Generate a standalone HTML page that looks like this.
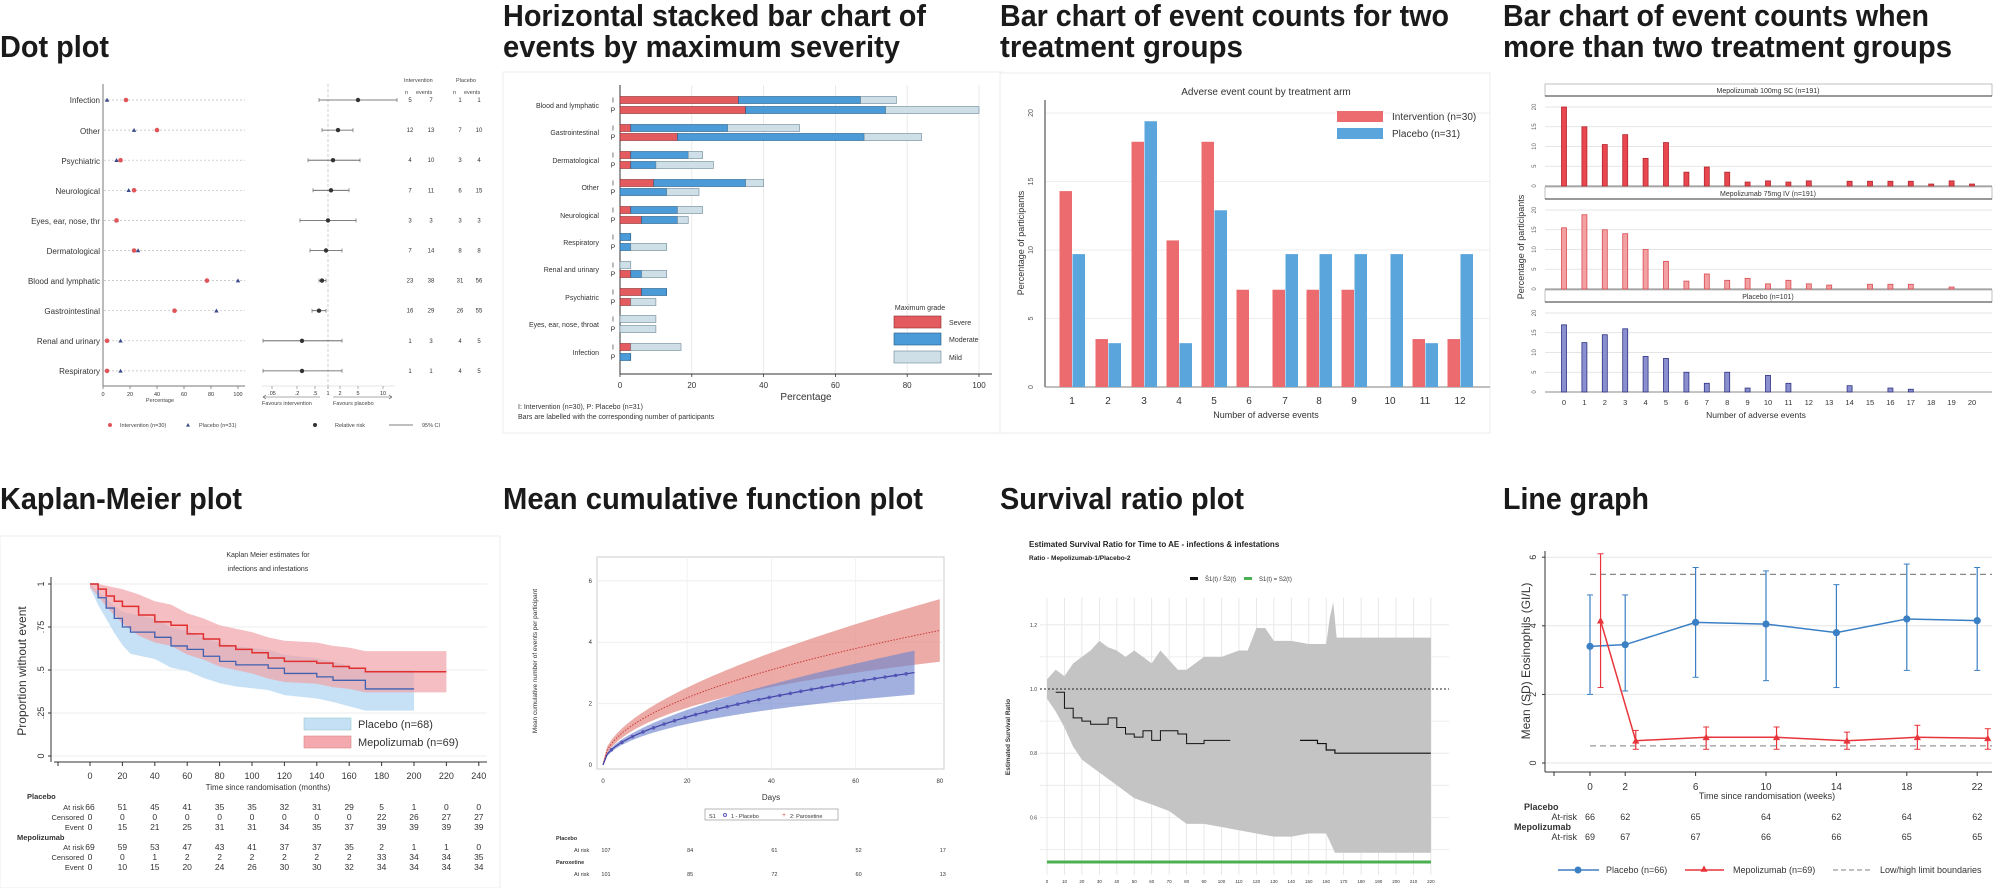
<!DOCTYPE html>
<html><head><meta charset="utf-8"><style>
html,body{margin:0;padding:0;background:#fff;}
svg{display:block;font-family:"Liberation Sans",sans-serif;}
.tt{font-weight:bold;font-size:31px;fill:#1a1a1a;}
</style></head><body>
<svg id="s" width="2000" height="888" viewBox="0 0 2000 888" xmlns="http://www.w3.org/2000/svg">
<rect width="2000" height="888" fill="#fff"/>
<!-- titles -->
<text class="tt" x="0" y="57" textLength="109" lengthAdjust="spacingAndGlyphs">Dot plot</text>
<text class="tt" x="503" y="26" textLength="423" lengthAdjust="spacingAndGlyphs">Horizontal stacked bar chart of</text>
<text class="tt" x="503" y="57" textLength="397" lengthAdjust="spacingAndGlyphs">events by maximum severity</text>
<text class="tt" x="1000" y="26" textLength="449" lengthAdjust="spacingAndGlyphs">Bar chart of event counts for two</text>
<text class="tt" x="1000" y="57" textLength="243" lengthAdjust="spacingAndGlyphs">treatment groups</text>
<text class="tt" x="1503" y="26" textLength="426" lengthAdjust="spacingAndGlyphs">Bar chart of event counts when</text>
<text class="tt" x="1503" y="57" textLength="449" lengthAdjust="spacingAndGlyphs">more than two treatment groups</text>
<text class="tt" x="0" y="509" textLength="242" lengthAdjust="spacingAndGlyphs">Kaplan-Meier plot</text>
<text class="tt" x="503" y="509" textLength="420" lengthAdjust="spacingAndGlyphs">Mean cumulative function plot</text>
<text class="tt" x="1000" y="509" textLength="244" lengthAdjust="spacingAndGlyphs">Survival ratio plot</text>
<text class="tt" x="1503" y="509" textLength="146" lengthAdjust="spacingAndGlyphs">Line graph</text>

<!-- cards -->
<rect x="503" y="72" width="500" height="361" fill="#fff" stroke="#eee"/>
<rect x="1000" y="73" width="490" height="360" fill="#fff" stroke="#eee"/>
<rect x="0" y="536" width="500" height="352" fill="#fff" stroke="#eee"/>

<g id="g"></g>

<!-- dot plot static text -->
<g font-size="8" fill="#333" text-anchor="end">
<text x="100" y="103">Infection</text><text x="100" y="134">Other</text><text x="100" y="164">Psychiatric</text><text x="100" y="194">Neurological</text><text x="100" y="224">Eyes, ear, nose, thr</text><text x="100" y="254">Dermatological</text><text x="100" y="284">Blood and lymphatic</text><text x="100" y="314">Gastrointestinal</text><text x="100" y="344">Renal and urinary</text><text x="100" y="374">Respiratory</text>
</g>
<g font-size="5.5" fill="#444">
<text x="404" y="82">Intervention</text><text x="456" y="82">Placebo</text>
<text x="405" y="94">n</text><text x="416" y="94">events</text><text x="453" y="94">n</text><text x="464" y="94">events</text>
<text x="160" y="402" text-anchor="middle">Percentage</text>
<text x="262" y="405">Favours intervention</text><text x="333" y="405">Favours placebo</text>
<text x="120" y="427">Intervention (n=30)</text><text x="199" y="427">Placebo (n=31)</text><text x="335" y="427">Relative risk</text><text x="422" y="427">95% CI</text>
</g>
<!-- stacked bar static text -->
<g font-size="7" fill="#333" text-anchor="end">
<text x="599" y="108">Blood and lymphatic</text><text x="599" y="135">Gastrointestinal</text><text x="599" y="163">Dermatological</text><text x="599" y="190">Other</text><text x="599" y="218">Neurological</text><text x="599" y="245">Respiratory</text><text x="599" y="272">Renal and urinary</text><text x="599" y="300">Psychiatric</text><text x="599" y="327">Eyes, ear, nose, throat</text><text x="599" y="355">Infection</text>
</g>
<g font-size="10" fill="#333"><text x="806" y="400" text-anchor="middle">Percentage</text></g>
<g font-size="7" fill="#333"><text x="920" y="310" text-anchor="middle">Maximum grade</text><text x="949" y="325">Severe</text><text x="949" y="342">Moderate</text><text x="949" y="360">Mild</text>
<text x="518" y="409">I: Intervention (n=30), P: Placebo (n=31)</text><text x="518" y="419">Bars are labelled with the corresponding number of participants</text></g>
<!-- panel 3 static text -->
<g font-size="10" fill="#333">
<text x="1266" y="95" text-anchor="middle">Adverse event count by treatment arm</text>
<text x="1266" y="418" text-anchor="middle" font-size="9">Number of adverse events</text>
<text x="1392" y="120">Intervention (n=30)</text><text x="1392" y="137">Placebo (n=31)</text>
<text transform="translate(1024,243) rotate(-90)" text-anchor="middle" font-size="9">Percentage of participants</text>
</g>
<!-- panel 4 static text -->
<g font-size="7" fill="#333" text-anchor="middle">
<text x="1768" y="93">Mepolizumab 100mg SC (n=191)</text>
<text x="1768" y="196">Mepolizumab 75mg IV (n=191)</text>
<text x="1768" y="299">Placebo (n=101)</text>
<text x="1756" y="418" font-size="8.5">Number of adverse events</text>
<text transform="translate(1524,247) rotate(-90)" font-size="9">Percentage of participants</text>
</g>
<!-- KM static -->
<g font-size="7" fill="#333" text-anchor="middle">
<text x="268" y="557">Kaplan Meier estimates for</text><text x="268" y="571">infections and infestations</text>
<text x="268" y="790" font-size="8">Time since randomisation (months)</text>
</g>
<text transform="translate(26,671) rotate(-90)" text-anchor="middle" font-size="12" fill="#333">Proportion without event</text>
<g font-size="11" fill="#333"><text x="358" y="728">Placebo (n=68)</text><text x="358" y="746">Mepolizumab (n=69)</text></g>
<g font-size="7.5" fill="#333">
<text x="27" y="799" font-weight="bold">Placebo</text><text x="17" y="840" font-weight="bold">Mepolizumab</text>
<g text-anchor="end"><text x="84" y="810">At risk</text><text x="84" y="820">Censored</text><text x="84" y="830">Event</text><text x="84" y="850">At risk</text><text x="84" y="860">Censored</text><text x="84" y="870">Event</text></g>
</g>
<!-- MCF static -->
<text transform="translate(537,661) rotate(-90)" text-anchor="middle" font-size="6.5" fill="#333">Mean cumulative number of events per participant</text>
<g font-size="7" fill="#333">
<text x="771" y="800" text-anchor="middle" font-size="8">Days</text>
<text x="709" y="818" font-size="5.5">S1</text><text x="731" y="818" font-size="5.5">1 - Placebo</text><text x="790" y="818" font-size="5.5">2: Paroxetine</text>
<text x="556" y="840" font-size="5.5" font-weight="bold">Placebo</text><text x="574" y="852" font-size="5.5">At risk</text>
<text x="556" y="864" font-size="5.5" font-weight="bold">Paroxetine</text><text x="574" y="876" font-size="5.5">At risk</text>
</g>
<!-- survival ratio static -->
<g font-size="8" fill="#222" font-weight="bold">
<text x="1029" y="547">Estimated Survival Ratio for Time to AE - infections &amp; infestations</text>
<text x="1029" y="560" font-size="6.5">Ratio - Mepolizumab-1/Placebo-2</text>
</g>
<g font-size="6" fill="#333"><text x="1205" y="581">Ŝ1(t) / Ŝ2(t)</text><text x="1259" y="581">S1(t) = S2(t)</text></g>
<text transform="translate(1010,737) rotate(-90)" text-anchor="middle" font-size="6.5" font-weight="bold" fill="#333">Estimated Survival Ratio</text>
<!-- line graph static -->
<text transform="translate(1530,661) rotate(-90)" text-anchor="middle" font-size="12" fill="#333">Mean (SD) Eosinophils (GI/L)</text>
<g font-size="9" fill="#333">
<text x="1767" y="799" text-anchor="middle">Time since randomisation (weeks)</text>
<text x="1524" y="810" font-weight="bold">Placebo</text><text x="1514" y="830" font-weight="bold">Mepolizumab</text>
<text x="1577" y="820" text-anchor="end">At-risk</text><text x="1577" y="840" text-anchor="end">At-risk</text>
<text x="1606" y="873">Placebo (n=66)</text><text x="1733" y="873">Mepolizumab (n=69)</text><text x="1880" y="873">Low/high limit boundaries</text>
</g>
</svg>
<script>
var G=document.getElementById('g'),NS='http://www.w3.org/2000/svg';
function E(t,a,tx){var e=document.createElementNS(NS,t);for(var k in a)e.setAttribute(k,a[k]);if(tx!==undefined)e.textContent=tx;G.appendChild(e);return e;}
function L(x1,y1,x2,y2,s,w,d){var a={x1:x1,y1:y1,x2:x2,y2:y2,stroke:s||'#333','stroke-width':w||1};if(d)a['stroke-dasharray']=d;return E('line',a);}
function T(x,y,t,fs,an,f,ex){var a={x:x,y:y,'font-size':fs||7,fill:f||'#333'};if(an)a['text-anchor']=an;if(ex)for(var k in ex)a[k]=ex[k];return E('text',a,t);}
function R(x,y,w,h,f,s,sw){var a={x:x,y:y,width:Math.max(0,w),height:h,fill:f};if(s){a.stroke=s;a['stroke-width']=sw||0.6;}return E('rect',a);}
function P(d,f,s,w,ex){var a={d:d,fill:f||'none'};if(s){a.stroke=s;a['stroke-width']=w||1;}if(ex)for(var k in ex)a[k]=ex[k];return E('path',a);}
function C(x,y,r,f,s){var a={cx:x,cy:y,r:r,fill:f};if(s){a.stroke=s;a['stroke-width']=1;}return E('circle',a);}
function tri(x,y,r,f){return P('M'+x+','+(y-r)+'L'+(x+r)+','+(y+r*0.8)+'L'+(x-r)+','+(y+r*0.8)+'Z',f);}

/* ===== Dot plot ===== */
L(103,84,103,386,'#777',1);L(103,386,245,386,'#777',1);
[0,20,40,60,80,100].forEach(function(v){var x=103+v*1.35;L(x,386,x,389,'#777',0.8);T(x,396,''+v,5.5,'middle');});
var red=[17,40,13,23,10,23,77,53,3,3],blu=[3,23,10,19,10,26,100,84,13,13];
var fp=[[358,319,397],[338,322,353],[333,308,360],[331,313,349],[328,300,356],[326,310,342],[322,319,326],[319,312,326],[302,263,342],[302,263,342]];
var nums=[[5,7,1,1],[12,13,7,10],[4,10,3,4],[7,11,6,15],[3,3,3,3],[7,14,8,8],[23,38,31,56],[16,29,26,55],[1,3,4,5],[1,1,4,5]];
L(328,84,328,386,'#bbb',0.7,'3,2');
for(var i=0;i<10;i++){var y=100+30.1*i;
L(104,y,245,y,'#bbb',0.7,'2,2');
tri(103+blu[i]*1.35,y,2.2,'#3a4a8a');C(103+red[i]*1.35,y,2.3,'#e0555a');
L(fp[i][1],y,fp[i][2],y,'#555',0.8);L(fp[i][1],y-2,fp[i][1],y+2,'#555',0.6);L(fp[i][2],y-2,fp[i][2],y+2,'#555',0.6);C(fp[i][0],y,2.2,'#333');
[410,431,460,479].forEach(function(x,j){T(x,y+2,''+nums[i][j],6,'middle');});}
L(262,386,395,386,'#ccc',0.6);
[[272,'.05'],[297,'.2'],[315,'.5'],[328,'1'],[340,'2'],[358,'5'],[383,'10']].forEach(function(a){L(a[0],386,a[0],389,'#777',0.6);T(a[0],395,a[1],5.5,'middle');});
L(263,397,320,397,'#555',0.6);L(263,397,266,395,'#555',0.6);L(263,397,266,399,'#555',0.6);
L(333,397,392,397,'#555',0.6);L(392,397,389,395,'#555',0.6);L(392,397,389,399,'#555',0.6);
C(110,425,2,'#e0555a');tri(188,425,2,'#3a4a8a');C(315,425,2,'#333');L(389,425,413,425,'#555',0.7);

/* ===== Stacked bars ===== */
var xs=function(v){return 620+v*3.59;};
[20,40,60,80,100].forEach(function(v){L(xs(v),85,xs(v),374,'#e6e6e6',0.8);});
L(620,85,620,374,'#333',1);L(620,374,992,374,'#333',1);
[0,20,40,60,80,100].forEach(function(v){L(xs(v),374,xs(v),377,'#333',0.8);T(xs(v),388,''+v,8,'middle');});
var SB=[[[33,67,77],[35,74,100]],[[3,30,50],[16,68,84]],[[3,19,23],[3,10,26]],[[9.4,35,40],[0,13,22]],[[3,16,23],[6,16,19]],[[0,3,3],[0,3,13]],[[0,0,3],[3,6,13]],[[6,13,13],[3,3,10]],[[0,0,10],[0,0,10]],[[3,3,17],[0,3,3]]];
var ys=[100,110,128,137,155,165,183,192,210,220,237,247,265,274,292,302,319,329,347,357];
SB.forEach(function(c,i){[0,1].forEach(function(j){var y=ys[i*2+j]-3.5,v=c[j];
R(xs(0),y,v[0]*3.59,7,'#e45b5f','#8a2a2c');R(xs(v[0]),y,(v[1]-v[0])*3.59,7,'#4a9bd8','#245a85');R(xs(v[1]),y,(v[2]-v[1])*3.59,7,'#cfdfe8','#6a8797');
T(613,y+6,j?'P':'I',7,'middle');});});
R(894,316,47,12,'#e45b5f','#8a2a2c');R(894,333,47,12,'#4a9bd8','#245a85');R(894,351,47,12,'#cfdfe8','#6a8797');

/* ===== Bar chart two groups ===== */
var y3=function(v){return 387-v*13.7;};
[5,10,15,20].forEach(function(v){L(1045,y3(v),1490,y3(v),'#eee',1);});
L(1045,100,1045,387,'#333',1);L(1045,387,1490,387,'#999',1.2);
[0,5,10,15,20].forEach(function(v){T(0,0,''+v,7,'middle','#555',{transform:'translate(1033,'+y3(v)+') rotate(-90)'});});
var rv=[14.3,3.5,17.9,10.7,17.9,7.1,7.1,7.1,7.1,0,3.5,3.5],bv=[9.7,3.2,19.4,3.2,12.9,0,9.7,9.7,9.7,9.7,3.2,9.7];
var cx=[1072,1108,1144,1179,1214,1249,1285,1319,1354,1390,1425,1460];
cx.forEach(function(c,i){R(c-12.5,y3(rv[i]),12.5,rv[i]*13.7,'#ec6b6e');R(c+0.5,y3(bv[i]),12.5,bv[i]*13.7,'#5aa5dc');T(c,404,''+(i+1),10,'middle');});
R(1337,111,46,11,'#ec6b6e');R(1337,128,46,11,'#5aa5dc');

/* ===== Facet bars ===== */
var pv=[[20,15,10.5,13,7,11,3.5,4.8,3.5,1,1.3,1,1.3,0,1.2,1.2,1.2,1.2,0.5,1.3,0.5],[15.5,18.8,15,14,10,7,2,3.8,2.2,2.7,1.3,2.2,1.3,1,0,1.2,1.2,1.2,0,0.5,0],[17,12.5,14.5,16,9,8.5,5,2.2,5,1,4.2,2.2,0,0,1.6,0,1,0.7,0,0,0]];
var base=[186,289,392],hd=[84,187,290],fc=[['#e8474f','#b3262d'],['#f3a0a3','#d94b52'],['#8a8fd0','#2e3380']];
for(var p=0;p<3;p++){R(1545,hd[p],447,12,'#fff','#999',0.6);L(1545,hd[p]+12,1992,hd[p]+12,'#333',1);
[0,5,10,15,20].forEach(function(v){var y=base[p]-v*3.95;L(1545,y,1992,y,v?'#ddd':'#888',v?0.8:1);T(0,0,''+v,6,'middle','#666',{transform:'translate(1536,'+y+') rotate(-90)'});});
pv[p].forEach(function(v,i){var x=1564+i*20.4;if(v>0)R(x-2.5,base[p]-v*3.95,5,v*3.95,fc[p][0],fc[p][1],0.8);});}
for(var i=0;i<=20;i++)T(1564+i*20.4,405,''+i,7.5,'middle');

/* ===== KM ===== */
var xk=function(t){return 90+t*1.62;},yk=function(s){return 756-s*172;};
[0,.25,.5,.75,1].forEach(function(v){L(51,yk(v),487,yk(v),'#eee',1);L(48,yk(v),51,yk(v),'#333',1);T(0,0,v==1?'1':v==0?'0':(''+v).replace('0.','.'),9,'middle','#333',{transform:'translate(44,'+yk(v)+') rotate(-90)'});});
L(51,577,51,762,'#333',1);L(54,762,487,762,'#333',1);L(58,762,58,766,'#333',1);
for(var i=0;i<=12;i++){var x=xk(i*20);L(x,762,x,766,'#333',1);T(x,779,''+i*20,9,'middle');}
var rk=[[0,1],[5,.97],[10,.93],[15,.9],[20,.87],[30,.82],[40,.78],[50,.76],[60,.71],[70,.68],[80,.64],[90,.62],[100,.6],[110,.57],[120,.55],[140,.54],[150,.52],[160,.51],[170,.49],[220,.49]];
var bk=[[0,1],[5,.92],[10,.86],[15,.8],[20,.75],[25,.72],[40,.69],[50,.64],[60,.62],[70,.58],[80,.55],[90,.53],[110,.51],[120,.48],[140,.46],[150,.44],[170,.39],[200,.39]];
function band(pts,fx,fy,wf,up,lo){var u='',l='';pts.forEach(function(q,i){var w=wf(q[0]);u+=(i?'L':'M')+fx(q[0])+','+fy(Math.min(1,q[1]+w*up));});for(var i=pts.length-1;i>=0;i--){var q=pts[i],w=wf(q[0]);l+='L'+fx(q[0])+','+fy(q[1]-w*lo);}return u+l+'Z';}
function step(pts,fx,fy){var d='M'+fx(pts[0][0])+','+fy(pts[0][1]);for(var i=1;i<pts.length;i++)d+='H'+fx(pts[i][0])+'V'+fy(pts[i][1]);return d;}
P(band(bk,xk,yk,function(t){return Math.min(.12,.02+t*.004);},0.9,1.05),'#bcdcf3',null,0,{opacity:.85});
P(band(rk,xk,yk,function(t){return Math.min(.12,.02+t*.004);},1,1),'#f0a3a8',null,0,{opacity:.7});
P(step(bk,xk,yk),'none','#4060b0',1.3);P(step(rk,xk,yk),'none','#e03030',1.5);
R(304,718,47,12,'#c5e0f5','#9cc');R(304,736,47,12,'#f3a9ad','#d88');
var kt=[[66,51,45,41,35,35,32,31,29,5,1,0,0],[0,0,0,0,0,0,0,0,0,22,26,27,27],[0,15,21,25,31,31,34,35,37,39,39,39,39],[69,59,53,47,43,41,37,37,35,2,1,1,0],[0,0,1,2,2,2,2,2,2,33,34,34,35],[0,10,15,20,24,26,30,30,32,34,34,34,34]];
var ky=[810,820,830,850,860,870];
kt.forEach(function(r,j){r.forEach(function(v,i){T(xk(i*20),ky[j],''+v,8.5,'middle');});});

/* ===== MCF ===== */
var xm=function(d){return 603+d*4.21;},ym=function(v){return 765-v*30.7;};
R(597,557,347,212,'#fff','#ccc',1);
[2,4,6].forEach(function(v){L(597,ym(v),944,ym(v),'#eee',1);});[20,40,60].forEach(function(d){L(xm(d),557,xm(d),769,'#f2f2f2',1);});
[0,2,4,6].forEach(function(v){T(592,ym(v)+2,''+v,6,'end');});[0,20,40,60,80].forEach(function(d){T(xm(d),783,''+d,6,'middle');});
function mcf(a,hw,end){var u='',l='',ln='';for(var d=0;d<=end;d+=1){var v=a*Math.sqrt(d),w=hw(d);u+=(d?'L':'M')+xm(d)+','+ym(v+w);ln+=(d?'L':'M')+xm(d)+','+ym(v);}for(var d=end;d>=0;d-=1){var v=a*Math.sqrt(d);l+='L'+xm(d)+','+ym(Math.max(0,v-hw(d)));}return [u+l+'Z',ln];}
var rm=mcf(0.49,function(d){return .1+.0115*d;},80),bm=mcf(0.35,function(d){return .05+.009*d;},74);
P(rm[0],'#e58f88',null,0,{opacity:.75});P(bm[0],'#6f86cc',null,0,{opacity:.65});
P(rm[1],'none','#c83a3a',1,{'stroke-dasharray':'1.5,1.5'});P(bm[1],'none','#4040a8',1.2);
for(var d=2;d<74;d+=2.5){C(xm(d),ym(0.35*Math.sqrt(d)),1.3,'none','#5a5ab8');}
R(705,809,133,11,'#fff','#888',0.6);C(725,815,1.5,'none','#5a5ab8');T(784,817,'+',6,'middle','#c83a3a');
[107,84,61,52,17].forEach(function(v,i){T(xm(i*20)+3,852,''+v,5.5,'middle');});[101,85,72,60,13].forEach(function(v,i){T(xm(i*20)+3,876,''+v,5.5,'middle');});

/* ===== Survival ratio ===== */
var xr=function(t){return 1047+t*1.745;},yr=function(v){return 689-(v-1)*321;};
for(var t=0;t<=220;t+=10)L(xr(t),598,xr(t),875,'#e2e2e2',0.8);
[1.2,1.1,0.9,0.8,0.7,0.6,0.5].forEach(function(v){L(1040,yr(v),1449,yr(v),'#e8e8e8',0.8);});
var up=[[0,1.03],[5,1.06],[10,1.04],[15,1.08],[20,1.1],[25,1.12],[30,1.15],[35,1.13],[40,1.12],[45,1.1],[50,1.12],[55,1.1],[60,1.08],[65,1.12],[70,1.09],[75,1.06],[80,1.06],[90,1.1],[100,1.1],[110,1.12],[115,1.12],[120,1.19],[125,1.19],[130,1.15],[140,1.15],[150,1.14],[160,1.14],[162,1.22],[164,1.27],[166,1.16],[220,1.16]];
var lo=[[0,0.97],[5,0.93],[10,0.88],[15,0.82],[20,0.78],[30,0.74],[40,0.7],[50,0.66],[60,0.64],[70,0.62],[80,0.58],[90,0.58],[100,0.57],[110,0.56],[120,0.55],[130,0.54],[140,0.54],[150,0.55],[160,0.55],[165,0.49],[220,0.49]];
var d='';up.forEach(function(q,i){d+=(i?'L':'M')+xr(q[0])+','+yr(q[1]);});for(var i=lo.length-1;i>=0;i--)d+='L'+xr(lo[i][0])+','+yr(lo[i][1]);P(d+'Z','#c4c4c4');
L(1040,yr(1),1449,yr(1),'#222',1,'2,2');
var sr=[[5,0.99],[10,0.94],[15,0.91],[20,0.9],[25,0.89],[35,0.91],[40,0.88],[45,0.86],[50,0.85],[55,0.87],[60,0.84],[65,0.87],[75,0.86],[80,0.83],[90,0.84],[105,0.84]];
var ds='';sr.forEach(function(q,i){ds+=(i?'H'+xr(q[0])+'V':'M'+xr(q[0])+',')+yr(q[1]);});P(ds,'none','#111',1);
P('M'+xr(145)+','+yr(0.84)+'H'+xr(155)+'V'+yr(0.83)+'H'+xr(160)+'V'+yr(0.81)+'H'+xr(165)+'V'+yr(0.8)+'H'+xr(220),'none','#111',1.2);
L(1047,862,1431,862,'#4caf50',3);
R(1190,577,8,3,'#111');R(1244,577,8,3,'#4caf50');
[[1.2,'1.2'],[1,'1.0'],[0.8,'0.8'],[0.6,'0.6']].forEach(function(a){T(1037,yr(a[0])+2,a[1],5,'end');});
for(var t=0;t<=220;t+=10)T(xr(t),883,''+t,4.5,'middle');

/* ===== Line graph ===== */
var xl=function(w){return 1590+w*17.6;},yl=function(v){return 763-v*34.3;};
[0,2,4,6].forEach(function(v){L(1545,yl(v),1992,yl(v),'#e6e6e6',1);T(0,0,''+v,9,'middle','#333',{transform:'translate(1536,'+yl(v)+') rotate(-90)'});L(1542,yl(v),1545,yl(v),'#333',1);});
L(1545,551,1545,772,'#333',1);L(1545,772,1992,772,'#333',1);L(1554,772,1554,776,'#333',1);
[0,2,6,10,14,18,22].forEach(function(w){L(xl(w),772,xl(w),776,'#333',1);T(xl(w),790,''+w,10,'middle');});
L(1590,yl(5.5),1992,yl(5.5),'#888',1.3,'6,4');L(1590,yl(0.5),1992,yl(0.5),'#999',1.3,'6,4');
var bl=[[0,3.4,2.0,4.9],[2,3.45,2.1,4.9],[6,4.1,2.5,5.7],[10,4.05,2.4,5.6],[14,3.8,2.2,5.2],[18,4.2,2.7,5.8],[22,4.15,2.7,5.7]];
var rl=[[0.6,4.15,2.2,6.1],[2.6,0.65,0.4,0.95],[6.6,0.75,0.4,1.05],[10.6,0.75,0.4,1.05],[14.6,0.65,0.4,0.9],[18.6,0.75,0.4,1.1],[22.6,0.72,0.4,1.0]];
function ser(a,col,mk){var d='';a.forEach(function(q,i){d+=(i?'L':'M')+xl(q[0])+','+yl(q[1]);L(xl(q[0]),yl(q[2]),xl(q[0]),yl(q[3]),col,1.2);L(xl(q[0])-3,yl(q[2]),xl(q[0])+3,yl(q[2]),col,1);L(xl(q[0])-3,yl(q[3]),xl(q[0])+3,yl(q[3]),col,1);});P(d,'none',col,1.5);a.forEach(function(q){mk(xl(q[0]),yl(q[1]));});}
ser(bl,'#3b7fc4',function(x,y){C(x,y,3.6,'#3b7fc4');});
ser(rl,'#e8353b',function(x,y){tri(x,y,3.6,'#e8353b');});
[66,62,65,64,62,64,62].forEach(function(v,i){T(xl([0,2,6,10,14,18,22][i]),820,''+v,9,'middle');});
[69,67,67,66,66,65,65].forEach(function(v,i){T(xl([0,2,6,10,14,18,22][i]),840,''+v,9,'middle');});
L(1558,870,1599,870,'#3b7fc4',1.5);C(1578,870,3.5,'#3b7fc4');L(1685,870,1724,870,'#e8353b',1.5);tri(1704,869,3.5,'#e8353b');L(1833,870,1872,870,'#999',1.3,'5,3');
</script>
</body></html>
